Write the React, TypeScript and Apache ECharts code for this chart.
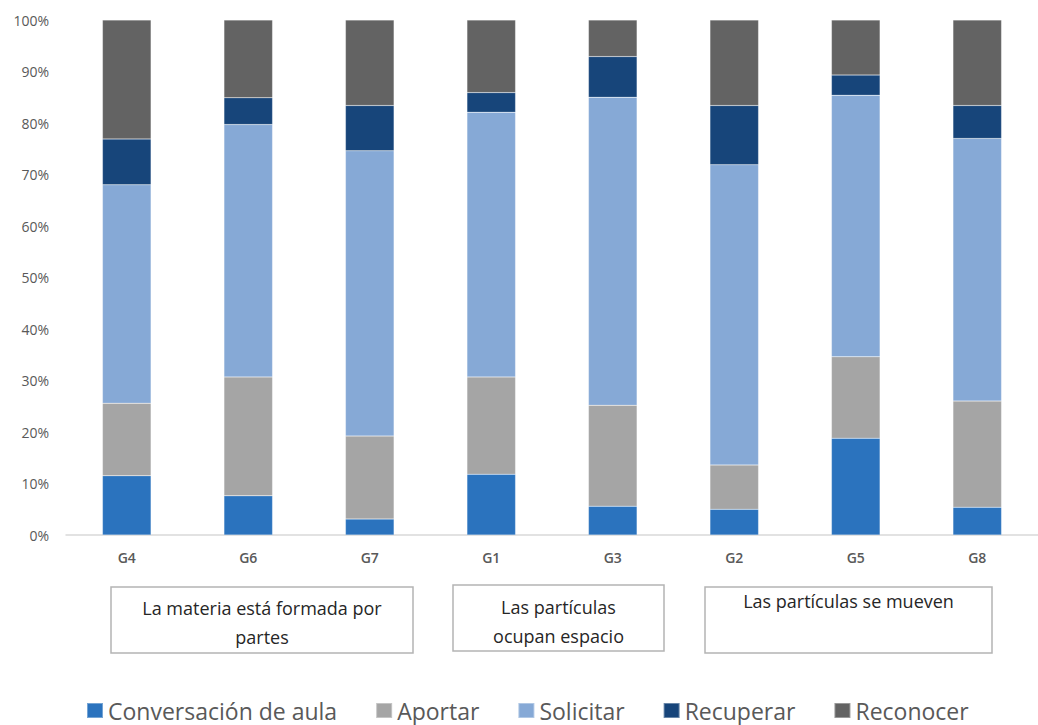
import React, { useEffect, useRef } from "react";
import * as echarts from "echarts";

// Groups, in the order they are shown
const groups = ["G4", "G6", "G7", "G1", "G3", "G2", "G5", "G8"];

// Share of each discourse type per group (%)
const conversacion = [11.5, 7.6, 3.1, 11.8, 5.6, 5.0, 18.8, 5.4];
const aportar = [14.1, 23.1, 16.1, 18.9, 19.6, 8.6, 15.8, 20.6];
const solicitar = [42.4, 49.0, 55.4, 51.4, 59.8, 58.3, 50.8, 51.0];
const recuperar = [8.9, 5.2, 8.8, 3.8, 7.9, 11.5, 3.9, 6.4];
const reconocer = [23.1, 15.1, 16.6, 14.1, 7.1, 16.6, 10.7, 16.6];

const seriesNames = ["Conversación de aula", "Aportar", "Solicitar", "Recuperar", "Reconocer"];
const seriesColors = ["#2b73be", "#a5a5a5", "#86a9d6", "#17457a", "#636363"];

// Topic boxes drawn under the axis
const topics = [
  { lines: ["La materia está formada por", "partes"], x: 111, y: 587, w: 302, h: 66, textTop: 593 },
  { lines: ["Las partículas", "ocupan espacio"], x: 453, y: 585, w: 211, h: 66, textTop: 592 },
  { lines: ["Las partículas se mueven"], x: 705, y: 587, w: 287, h: 66, textTop: 586 },
];

const FONT = "'Open Sans', 'Noto Sans', sans-serif";

export default function App() {
  const ref = useRef<HTMLDivElement>(null);

  useEffect(() => {
    if (!ref.current) return;
    const chart = echarts.init(ref.current, undefined, { renderer: "svg" });
    const values = [conversacion, aportar, solicitar, recuperar, reconocer];

    const graphics: any[] = [];
    topics.forEach((t) => {
      graphics.push({
        type: "rect",
        shape: { x: t.x, y: t.y, width: t.w, height: t.h },
        style: { fill: "#ffffff", stroke: "#b4b4b4", lineWidth: 1.5 },
      });
      graphics.push({
        type: "text",
        x: t.x + t.w / 2,
        y: t.textTop,
        style: {
          text: t.lines.join("\n"),
          fill: "#262626",
          font: `18px ${FONT}`,
          lineHeight: 29,
          align: "center",
          verticalAlign: "top",
        },
      });
    });

    chart.setOption({
      animation: false,
      textStyle: { fontFamily: FONT },
      color: seriesColors,
      grid: { left: 66, top: 20, width: 980.6, height: 515 },
      legend: {
        left: 86,
        top: 699,
        padding: 0,
        itemWidth: 16,
        itemHeight: 15,
        itemGap: 38,
        icon: "rect",
        textStyle: { fontSize: 23, color: "#595959", fontFamily: FONT },
        data: seriesNames,
      },
      xAxis: {
        type: "category",
        data: groups,
        axisTick: { show: false },
        axisLine: { lineStyle: { color: "#d9d9d9", width: 1.5 } },
        axisLabel: { color: "#595959", fontSize: 14, fontWeight: 600, margin: 15 },
      },
      yAxis: {
        type: "value",
        min: 0,
        max: 100,
        interval: 10,
        axisLine: { show: false },
        axisTick: { show: false },
        splitLine: { show: false },
        axisLabel: { formatter: "{value}%", color: "#595959", fontSize: 14, margin: 17 },
      },
      series: seriesNames.map((name, i) => ({
        name,
        type: "bar",
        stack: "total",
        barWidth: "40%",
        data: values[i],
        itemStyle: { color: seriesColors[i], borderColor: "rgba(255,255,255,0.35)", borderWidth: 0.5 },
      })),
      graphic: graphics,
    });

    return () => chart.dispose();
  }, []);

  return (
    <div
      ref={ref}
      style={{ position: "absolute", left: 0, top: 0, width: 1038, height: 725, background: "#ffffff" }}
    />
  );
}
